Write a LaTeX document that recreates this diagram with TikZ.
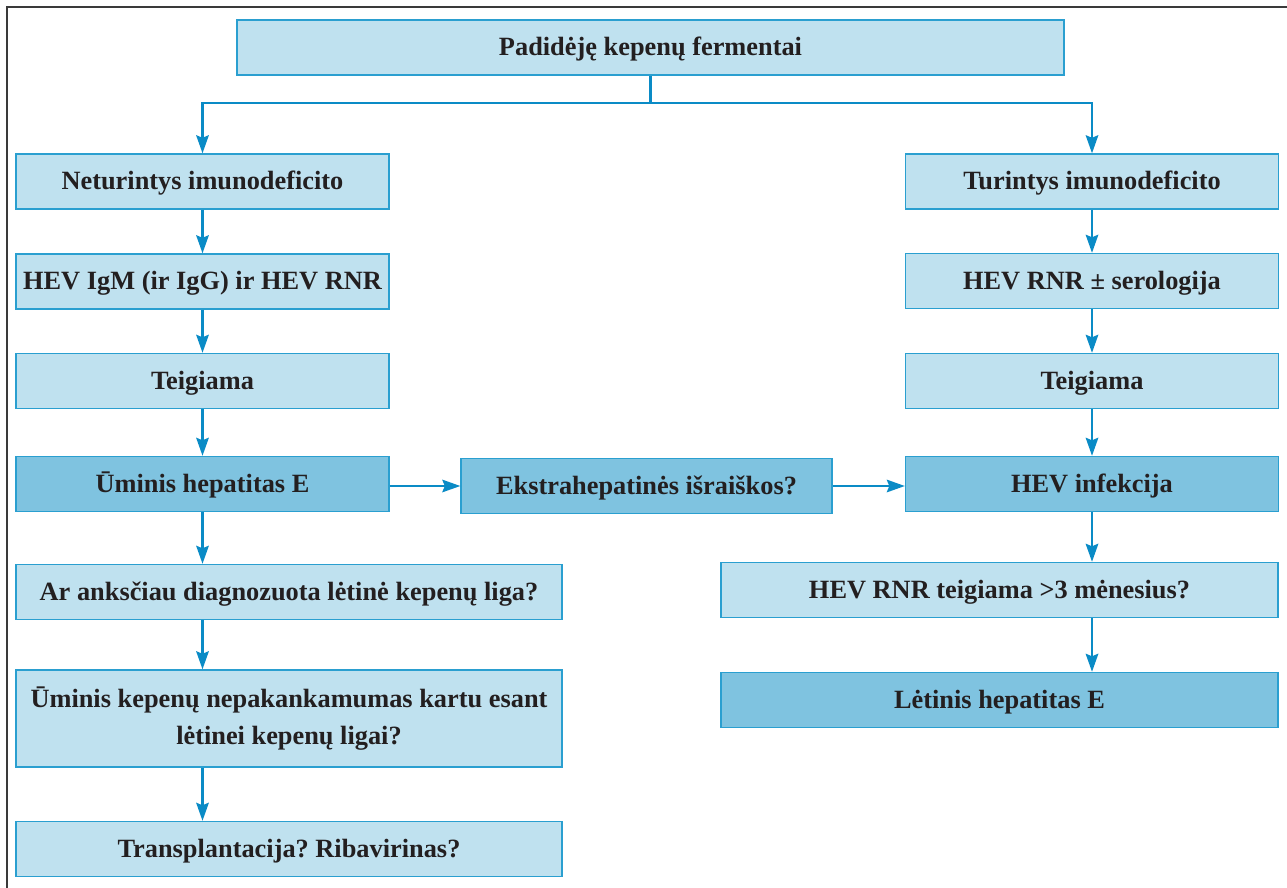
\documentclass[tikz,border=0pt]{standalone}
\usepackage{fontspec}
\setmainfont{Liberation Serif}
\usetikzlibrary{arrows.meta}
\definecolor{boxlight}{HTML}{BFE1EF}
\definecolor{boxdark}{HTML}{7FC3E0}
\definecolor{boxline}{HTML}{2A9FD0}
\definecolor{arrowblue}{HTML}{0A8BC6}
\definecolor{txt}{HTML}{231F20}
\definecolor{framegray}{HTML}{3A3A3A}
\frenchspacing

\begin{document}
\begin{tikzpicture}[x=0.02cm, y=-0.02cm,
    every node/.style={draw=boxline, line width=0.8pt, text=txt, align=center, inner sep=0pt,
        text height=1.1em, text depth=0.14em,
        font=\fontsize{15}{21}\selectfont\bfseries},
    lightbox/.style={fill=boxlight},
    darkbox/.style={fill=boxdark},
    narrow/.style={minimum width=7.46cm, minimum height=1.1cm},
    flow/.style={draw=arrowblue, line width=1.4pt, -{Stealth[length=0.36cm, width=0.25cm, inset=0.05cm]}}]
    \useasboundingbox (0,0) rectangle (1287,888);
    \draw[framegray, line width=1pt] (7,888) -- (7,7) -- (1287,7);

    \node[lightbox, minimum width=16.54cm, minimum height=1.1cm] (top) at (650.5,47.5) {Padidėję kepenų fermentai};

    % kairė šaka
    \node[lightbox, narrow] (neg) at (202.5,181.5) {Neturintys imunodeficito};
    \node[lightbox, narrow] (igm) at (202.5,281.5) {HEV IgM (ir IgG) ir HEV RNR};
    \node[lightbox, narrow] (teigL) at (202.5,381) {Teigiama};
    \node[darkbox, narrow] (acute) at (202.5,484) {Ūminis hepatitas E};
    \node[lightbox, minimum width=10.92cm, minimum height=1.1cm] (liver) at (289,592) {Ar anksčiau diagnozuota lėtinė kepenų liga?};
    \node[lightbox, minimum width=10.92cm, minimum height=1.94cm, text height={}, text depth={}] (failure) at (289,718.5) {Ūminis kepenų nepakankamumas kartu esant\\lėtinei kepenų ligai?};
    \node[lightbox, minimum width=10.92cm, minimum height=1.1cm] (transpl) at (289,849) {Transplantacija? Ribavirinas?};

    \node[darkbox, minimum width=7.42cm, minimum height=1.1cm] (extra) at (646.5,486) {Ekstrahepatinės išraiškos?};

    % dešinė šaka
    \node[lightbox, narrow] (pos) at (1092,181.5) {Turintys imunodeficito};
    \node[lightbox, narrow] (rnr) at (1092,281) {HEV RNR ± serologija};
    \node[lightbox, narrow] (teigR) at (1092,381) {Teigiama};
    \node[darkbox, narrow] (hev) at (1092,484) {HEV infekcija};
    \node[lightbox, minimum width=11.14cm, minimum height=1.1cm] (rnr3) at (999.5,590) {HEV RNR teigiama >3 mėnesius?};
    \node[darkbox, minimum width=11.14cm, minimum height=1.1cm] (chronic) at (999.5,700) {Lėtinis hepatitas E};

    \coordinate (split) at (650.5,103);
    \draw[flow] (top.south) -- (split) -| (neg.north);
    \draw[flow] (split) -| (pos.north);

    \draw[flow] (neg) -- (igm);
    \draw[flow] (igm) -- (teigL);
    \draw[flow] (teigL) -- (acute);
    \draw[flow] (acute.south) -- (acute.south |- liver.north);
    \draw[flow] (liver.south -| acute) -- (failure.north -| acute);
    \draw[flow] (failure.south -| acute) -- (transpl.north -| acute);

    \draw[flow] (acute.east |- extra) -- (extra.west);
    \draw[flow] (extra.east) -- (hev.west |- extra);

    \draw[flow] (pos) -- (rnr);
    \draw[flow] (rnr) -- (teigR);
    \draw[flow] (teigR) -- (hev);
    \draw[flow] (hev.south) -- (hev.south |- rnr3.north);
    \draw[flow] (rnr3.south -| hev) -- (chronic.north -| hev);
\end{tikzpicture}
\end{document}
